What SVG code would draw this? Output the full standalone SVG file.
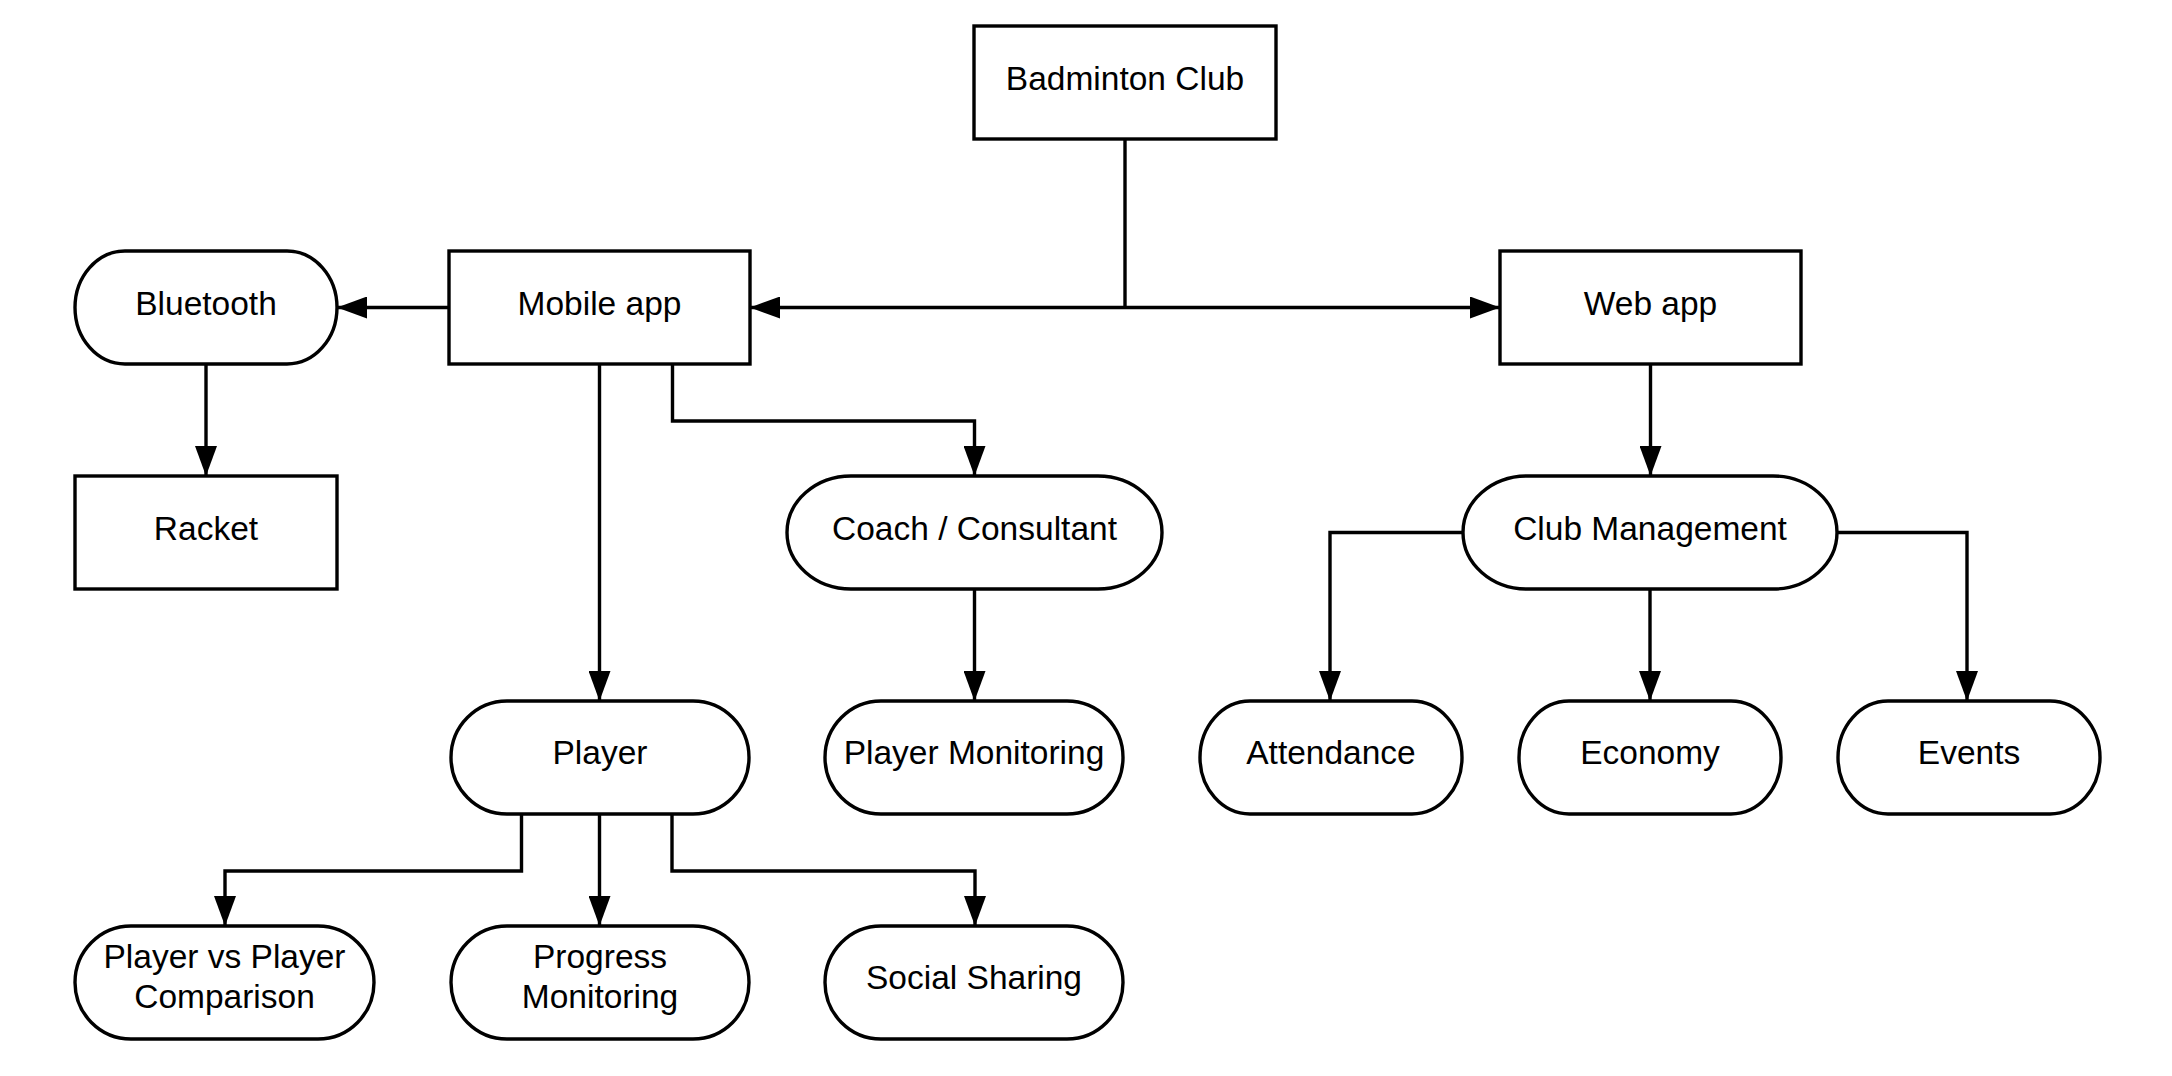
<svg xmlns="http://www.w3.org/2000/svg" width="2172" height="1076" viewBox="0 0 2172 1076">
<style>
.box{fill:#fff;stroke:#000;stroke-width:3.4}
.t{font-family:"Liberation Sans",Arial,sans-serif;font-size:33.5px;fill:#000;text-anchor:middle}
.c{fill:none;stroke:#000;stroke-width:3.4}
</style>
<defs>
<marker id="ah" viewBox="0 0 30 22" refX="30" refY="11" markerWidth="30" markerHeight="22" markerUnits="userSpaceOnUse" orient="auto">
<path d="M0,0 L30,11 L0,22 Z" fill="#000"/>
</marker>
</defs>
<rect width="2172" height="1076" fill="#fff"/>
<g id="connectors">
<path class="c" d="M1125,139 V307.5"/>
<path class="c" d="M1125,307.5 H750" marker-end="url(#ah)"/>
<path class="c" d="M1125,307.5 H1500" marker-end="url(#ah)"/>
<path class="c" d="M449,307.5 H337" marker-end="url(#ah)"/>
<path class="c" d="M206,364 V476" marker-end="url(#ah)"/>
<path class="c" d="M599.5,364 V701" marker-end="url(#ah)"/>
<path class="c" d="M672.5,364 V421 H974.5 V476" marker-end="url(#ah)"/>
<path class="c" d="M974.5,589 V701" marker-end="url(#ah)"/>
<path class="c" d="M1650.5,364 V476" marker-end="url(#ah)"/>
<path class="c" d="M1463,532.5 H1330 V701" marker-end="url(#ah)"/>
<path class="c" d="M1650,589 V701" marker-end="url(#ah)"/>
<path class="c" d="M1837,532.5 H1967 V701" marker-end="url(#ah)"/>
<path class="c" d="M521.5,814 V871 H225 V926" marker-end="url(#ah)"/>
<path class="c" d="M599.5,814 V926" marker-end="url(#ah)"/>
<path class="c" d="M672,814 V871 H975 V926" marker-end="url(#ah)"/>
</g>
<g id="badminton-club"><rect class="box" x="974" y="26" width="302" height="113"/><text class="t" x="1125" y="89.5">Badminton Club</text></g>
<g id="mobile-app"><rect class="box" x="449" y="251" width="301" height="113"/><text class="t" x="599.5" y="314.5">Mobile app</text></g>
<g id="web-app"><rect class="box" x="1500" y="251" width="301" height="113"/><text class="t" x="1650.5" y="314.5">Web app</text></g>
<g id="bluetooth"><rect class="box" x="75" y="251" width="262" height="113" rx="50" ry="56.5"/><text class="t" x="206" y="314.5">Bluetooth</text></g>
<g id="racket"><rect class="box" x="75" y="476" width="262" height="113"/><text class="t" x="206" y="539.5">Racket</text></g>
<g id="coach"><rect class="box" x="787" y="476" width="375" height="113" rx="64" ry="56.5"/><text class="t" x="974.5" y="539.5">Coach / Consultant</text></g>
<g id="club-management"><rect class="box" x="1463" y="476" width="374" height="113" rx="64" ry="56.5"/><text class="t" x="1650" y="539.5">Club Management</text></g>
<g id="player"><rect class="box" x="451" y="701" width="298" height="113" rx="56" ry="56.5"/><text class="t" x="600" y="764">Player</text></g>
<g id="player-monitoring"><rect class="box" x="825" y="701" width="298" height="113" rx="56" ry="56.5"/><text class="t" x="974" y="764">Player Monitoring</text></g>
<g id="attendance"><rect class="box" x="1200" y="701" width="262" height="113" rx="50" ry="56.5"/><text class="t" x="1331" y="764">Attendance</text></g>
<g id="economy"><rect class="box" x="1519" y="701" width="262" height="113" rx="50" ry="56.5"/><text class="t" x="1650" y="764">Economy</text></g>
<g id="events"><rect class="box" x="1838" y="701" width="262" height="113" rx="50" ry="56.5"/><text class="t" x="1969" y="764">Events</text></g>
<g id="pvp"><rect class="box" x="75" y="926" width="299" height="113" rx="56" ry="56.5"/><text class="t" x="224.5" y="968">Player vs Player</text><text class="t" x="224.5" y="1008">Comparison</text></g>
<g id="progress"><rect class="box" x="451" y="926" width="298" height="113" rx="56" ry="56.5"/><text class="t" x="600" y="968">Progress</text><text class="t" x="600" y="1008">Monitoring</text></g>
<g id="social"><rect class="box" x="825" y="926" width="298" height="113" rx="56" ry="56.5"/><text class="t" x="974" y="989">Social Sharing</text></g>
</svg>
